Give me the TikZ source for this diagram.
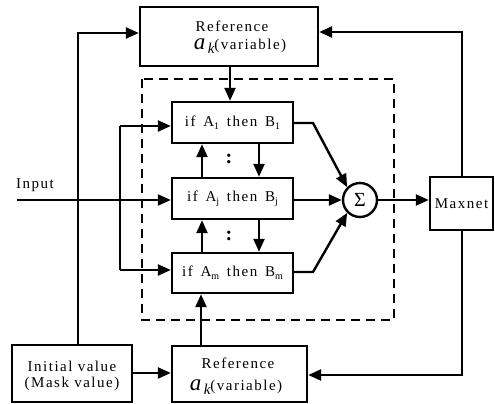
\documentclass[tikz,border=0pt]{standalone}
\usepackage{fontspec}
\setmainfont{Liberation Serif}[LetterSpace=10]
\usetikzlibrary{arrows.meta}
\newcommand{\mysub}[1]{\raisebox{-3pt}{\fontsize{10}{10}\selectfont #1}}
\newcommand{\myak}{\raisebox{0pt}[11pt][0pt]{\fontsize{23}{23}\selectfont\itshape a}\,\raisebox{-4pt}[7pt][0pt]{\fontsize{15}{15}\selectfont\itshape k}\raisebox{0pt}[11pt][3pt]{(variable)}}
\begin{document}
\begin{tikzpicture}[x=1pt,y=-1pt,
  box/.style={draw, line width=2.4pt, inner sep=0pt},
  ln/.style={line width=2.4pt},
  arr/.style={line width=2.4pt, -{Triangle[length=13pt,width=11pt]}},
  txt/.style={inner sep=0pt, font=\fontsize{15}{17}\selectfont},
  dotsym/.style={inner sep=0pt, font=\fontsize{20}{20}\selectfont\bfseries}]
\useasboundingbox (0,0) rectangle (495,404);
% dashed frame
\draw[line width=2.2pt, dash pattern=on 9pt off 6pt] (142,79) rectangle (394,320);
% boxes
\node[box, minimum width=178pt, minimum height=59pt] (reft) at (229,36.5) {};
\node[box, minimum width=135pt, minimum height=56pt] (refb) at (239.5,374) {};
\node[box, minimum width=120pt, minimum height=57pt] (init) at (72,373.5) {};
\node[box, minimum width=121pt, minimum height=41pt] (r1) at (232.5,122.5) {};
\node[box, minimum width=121pt, minimum height=41pt] (rj) at (232.5,198.5) {};
\node[box, minimum width=121pt, minimum height=40pt] (rm) at (232.5,273) {};
\node[box, minimum width=63pt, minimum height=53pt] (maxnet) at (461.5,203.5) {};
\node[draw, circle, line width=2.4pt, minimum size=34pt, inner sep=0pt] (sig) at (360,200) {};
% texts
\node[txt] (treft1) at (232,26) {Reference};
\node[txt, anchor=base] (treft2) at (240,50) {\myak};
\node[txt] (trefb1) at (238,363) {Reference};
\node[txt, anchor=base] (trefb2) at (236,390) {\myak};
\node[txt] (tinit1) at (72,366) {Initial value};
\node[txt] (tinit2) at (72,384) {(Mask value)};
\node[txt] (tr1) at (r1) {if\, A\mysub{1}\, then\, B\mysub{1}};
\node[txt] (trj) at (rj) {if\, A\mysub{j}\, then\, B\mysub{j}};
\node[txt] (trm) at (rm) {if\, A\mysub{m}\, then\, B\mysub{m}};
\node[txt] (tmax) at (maxnet) {Maxnet};
\node[txt, font=\fontsize{20}{20}\selectfont] (tsig) at (sig) {Σ};
\node[txt] (tin) at (35,185) {Input};
\node[dotsym] (d1) at (229,159) {:};
\node[dotsym] (d2) at (229,236) {:};
% coordinates
\coordinate (inp) at (17,200);
\coordinate (c1) at (120,126);
\coordinate (cm) at (120,270);
\coordinate (i1) at (78,33);
\coordinate (b1) at (313,123);
\coordinate (bm) at (313,272);
\coordinate (mt) at (462,32);
\coordinate (mb) at (462,375);
% connectors
\draw[arr] (inp) -- (rj.west |- inp);
\draw[ln] (c1) -- (cm);
\draw[arr] (c1) -- (r1.west |- c1);
\draw[arr] (cm) -- (rm.west |- cm);
\draw[arr] (init.north -| i1) -- (i1) -- (reft.west |- i1);
\draw[arr] (init.east |- 0,373) -- (refb.west |- 0,373);
\draw[arr] (reft.south -| 230,0) -- (r1.north -| 230,0);
\draw[arr] (refb.north -| 201,0) -- (rm.south -| 201,0);
\draw[arr] (rm.north -| 202,0) -- (rj.south -| 202,0);
\draw[arr] (rj.north -| 202,0) -- (r1.south -| 202,0);
\draw[arr] (r1.south -| 259,0) -- (rj.north -| 259,0);
\draw[arr] (rj.south -| 259,0) -- (rm.north -| 259,0);
\draw[arr] (r1.east |- b1) -- (b1) -- (sig.north west);
\draw[arr] (rm.east |- bm) -- (bm) -- (sig.south west);
\draw[arr] (rj.east |- sig) -- (sig.west);
\draw[arr] (sig.east) -- (maxnet.west |- sig);
\draw[arr] (maxnet.north -| mt) -- (mt) -- (reft.east |- mt);
\draw[arr] (maxnet.south -| mb) -- (mb) -- (refb.east |- mb);
\end{tikzpicture}
\end{document}
